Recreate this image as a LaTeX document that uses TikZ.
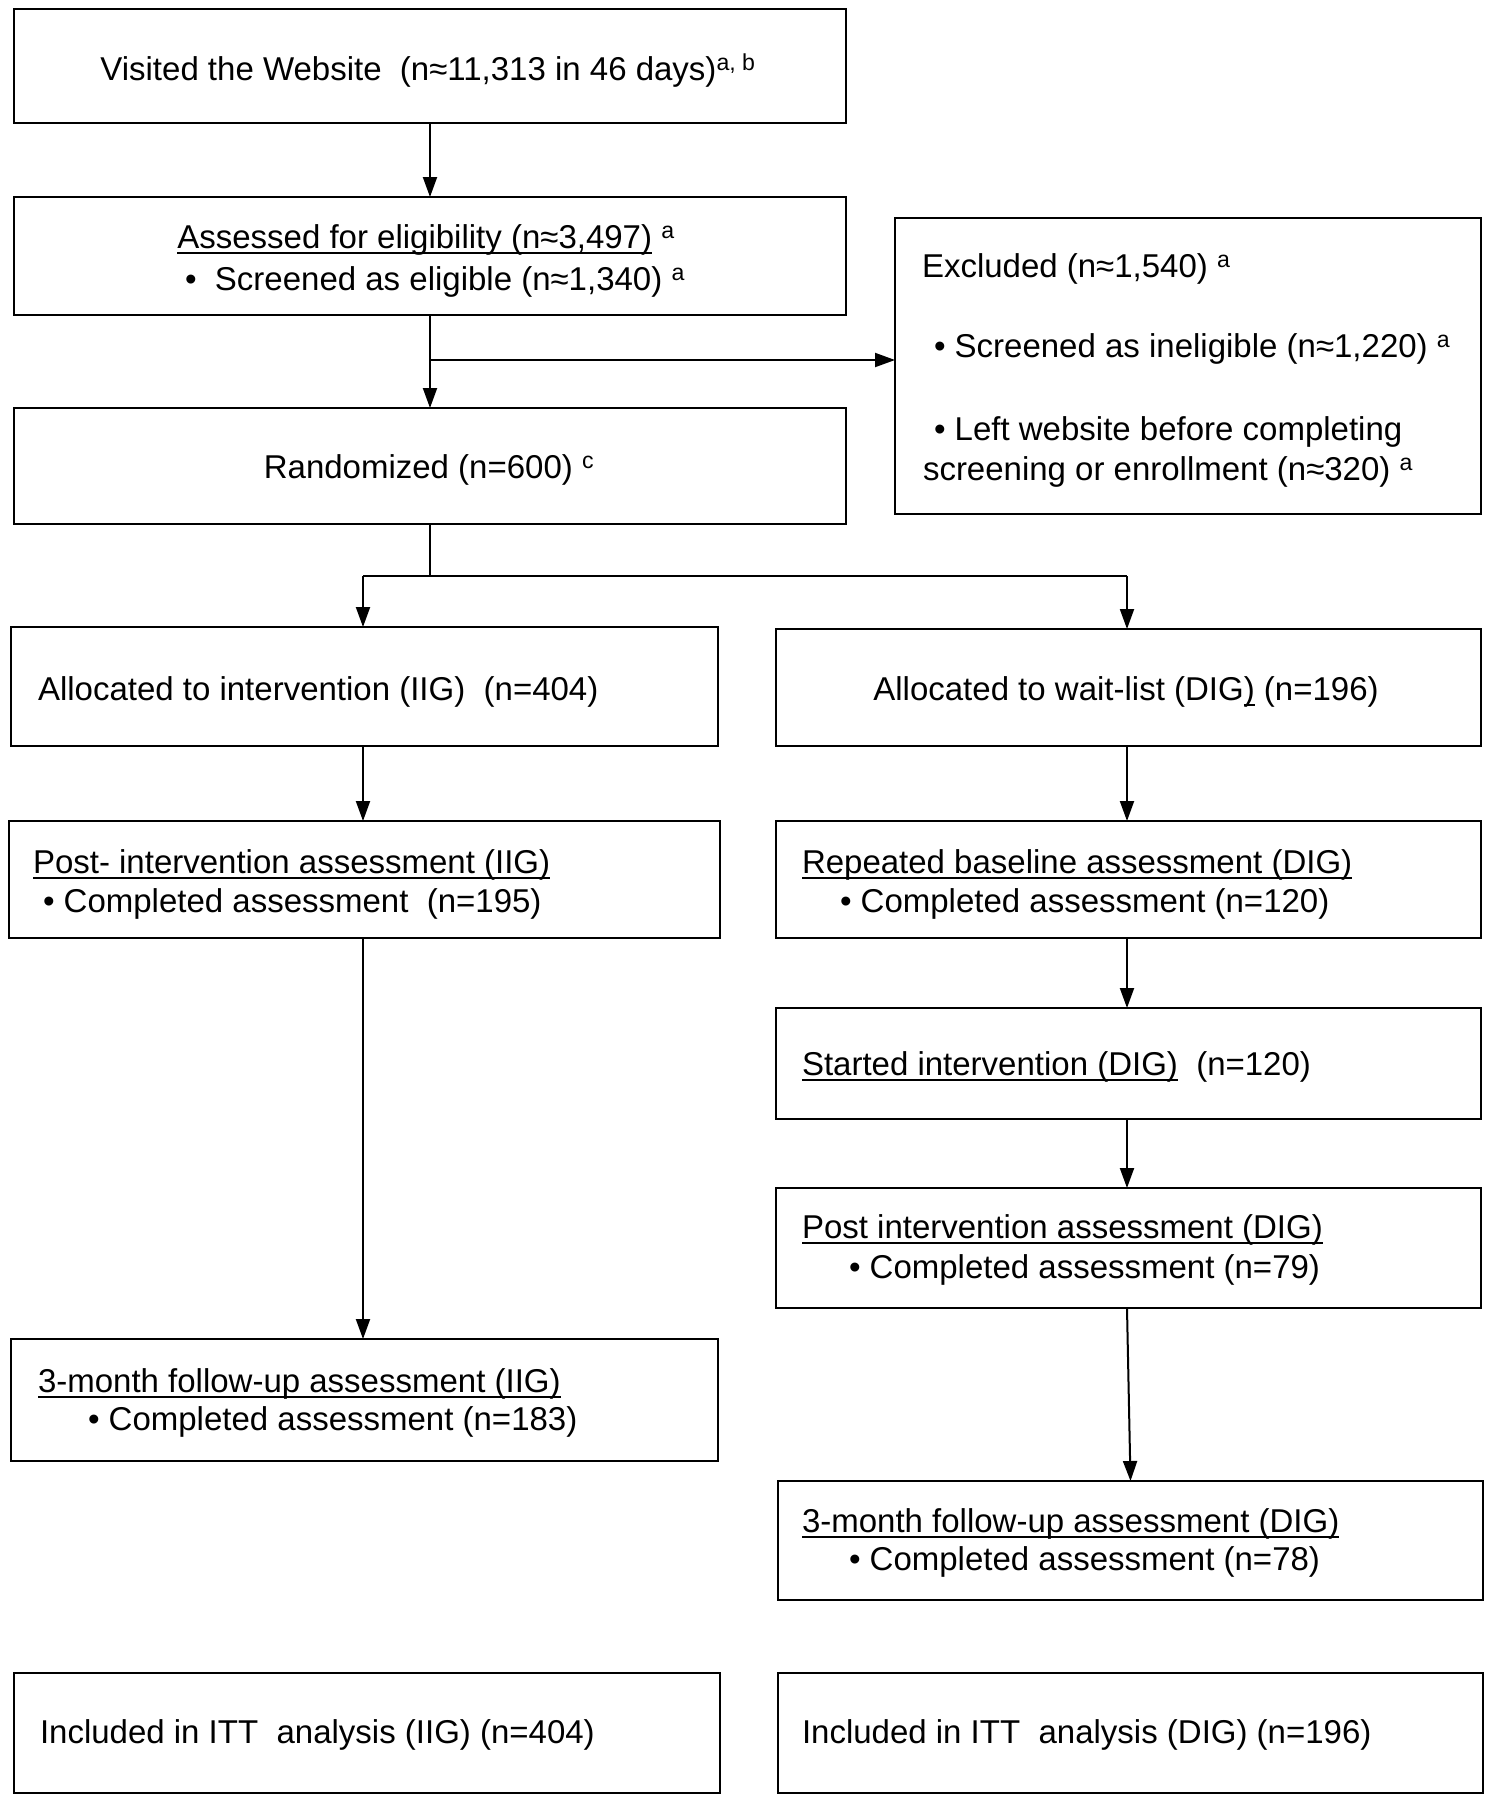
\documentclass[tikz,border=0pt]{standalone}
\usepackage{fontspec}
\setmainfont{Liberation Sans}
\usetikzlibrary{arrows.meta}
\newcommand\myul[1]{\setbox0\hbox{#1}\rlap{\raisebox{-5.5pt}{\rule{\wd0}{2pt}}}\box0\relax}
\tikzset{
  box/.style={draw, line width=2.6pt, inner sep=0pt, outer sep=0pt},
  lbl/.style={inner sep=0pt, outer sep=0pt, font=\fontsize{33}{39}\selectfont},
  arr/.style={line width=2pt, -{Triangle[length=20pt,width=14pt]}},
  ln/.style={line width=2pt}
}
\begin{document}
\begin{tikzpicture}[x=1pt,y=-1pt]
\useasboundingbox (0,0) rectangle (1488,1800);
% boxes
\node[box, minimum width=832, minimum height=114] (visit) at (430,66) {};
\node[box, minimum width=832, minimum height=118] (assess) at (430,256) {};
\node[box, minimum width=586, minimum height=296] (excl) at (1188,366) {};
\node[box, minimum width=832, minimum height=116] (rand) at (430,466) {};
\node[box, minimum width=707, minimum height=119] (allocI) at (364.5,686.5) {};
\node[box, minimum width=705, minimum height=117] (allocD) at (1128.5,687.5) {};
\node[box, minimum width=711, minimum height=117] (postI) at (364.5,879.5) {};
\node[box, minimum width=705, minimum height=117] (repD) at (1128.5,879.5) {};
\node[box, minimum width=705, minimum height=111] (startD) at (1128.5,1063.5) {};
\node[box, minimum width=705, minimum height=120] (postD) at (1128.5,1248) {};
\node[box, minimum width=707, minimum height=122] (fuI) at (364.5,1400) {};
\node[box, minimum width=705, minimum height=119] (fuD) at (1130.5,1540.5) {};
\node[box, minimum width=706, minimum height=120] (ittI) at (367,1733) {};
\node[box, minimum width=705, minimum height=120] (ittD) at (1130.5,1733) {};
% texts
\node[lbl, anchor=base] (t1) at (428,80) {Visited the Website~ (n≈11,313 in 46 days)\textsuperscript{a, b}};
\node[lbl, anchor=base] (t2) at (426,248) {\myul{Assessed for eligibility (n≈3,497)} \textsuperscript{a}};
\node[lbl, anchor=base] (t3) at (435,290) {•~ Screened as eligible (n≈1,340) \textsuperscript{a}};
\node[lbl, anchor=base west] (t4) at (922,277) {Excluded (n≈1,540) \textsuperscript{a}};
\node[lbl, anchor=base west] (t5) at (934,357) {• Screened as ineligible (n≈1,220) \textsuperscript{a}};
\node[lbl, anchor=base west] (t6) at (934,440) {• Left website before completing};
\node[lbl, anchor=base west] (t7) at (923,480) {screening or enrollment (n≈320) \textsuperscript{a}};
\node[lbl, anchor=base] (t8) at (429,478) {Randomized (n=600) \textsuperscript{c}};
\node[lbl, anchor=base west] (t9) at (38,700) {Allocated to intervention (IIG)~ (n=404)};
\node[lbl, anchor=base] (t10) at (1126,700) {Allocated to wait-list (DIG\myul{)} (n=196)};
\node[lbl, anchor=base west] (t11) at (33,873) {\myul{Post- intervention assessment (IIG)}};
\node[lbl, anchor=base west] (t12) at (43,912) {• Completed assessment~ (n=195)};
\node[lbl, anchor=base west] (t13) at (802,873) {\myul{Repeated baseline assessment (DIG)}};
\node[lbl, anchor=base west] (t14) at (840,912) {• Completed assessment (n=120)};
\node[lbl, anchor=base west] (t15) at (802,1075) {\myul{Started intervention (DIG)}~ (n=120)};
\node[lbl, anchor=base west] (t16) at (802,1238) {\myul{Post intervention assessment (DIG)}};
\node[lbl, anchor=base west] (t17) at (849,1278) {• Completed assessment (n=79)};
\node[lbl, anchor=base west] (t18) at (38,1392) {\myul{3-month follow-up assessment (IIG)}};
\node[lbl, anchor=base west] (t19) at (88,1430) {• Completed assessment (n=183)};
\node[lbl, anchor=base west] (t20) at (802,1532) {\myul{3-month follow-up assessment (DIG)}};
\node[lbl, anchor=base west] (t21) at (849,1570) {• Completed assessment (n=78)};
\node[lbl, anchor=base west] (t22) at (40,1743) {Included in ITT~ analysis (IIG) (n=404)};
\node[lbl, anchor=base west] (t23) at (802,1743) {Included in ITT~ analysis (DIG) (n=196)};
% connectors
\draw[arr] (visit.south) -- (assess.north);
\draw[arr] (assess.south) -- (rand.north);
\coordinate (br1) at (430,360);
\draw[arr] (br1) -- (br1 -| excl.west);
\coordinate (sp) at (430,576);
\coordinate (spL) at (363,576);
\coordinate (spR) at (1127,576);
\draw[ln] (rand.south) -- (sp);
\draw[ln] (spL) -- (spR);
\draw[arr] (spL) -- (spL |- allocI.north);
\draw[arr] (spR) -- (spR |- allocD.north);
\draw[arr] (allocI.south -| spL) -- (postI.north -| spL);
\draw[arr] (postI.south -| spL) -- (fuI.north -| spL);
\draw[arr] (allocD.south -| spR) -- (repD.north -| spR);
\draw[arr] (repD.south -| spR) -- (startD.north -| spR);
\draw[arr] (startD.south -| spR) -- (postD.north -| spR);
\draw[arr] (postD.south -| spR) -- (fuD.north);
\end{tikzpicture}
\end{document}
